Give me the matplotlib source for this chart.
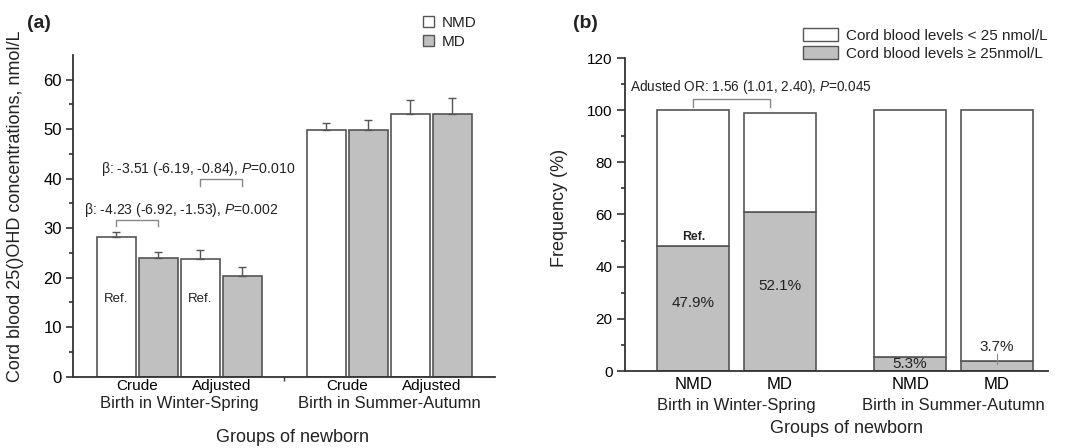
import numpy as np
import matplotlib.pyplot as plt
from matplotlib.patches import Patch

plt.rcParams['font.family'] = ['Liberation Sans', 'DejaVu Sans']
plt.rcParams['text.color'] = '#222222'
plt.rcParams['axes.labelcolor'] = '#222222'
plt.rcParams['mathtext.fontset'] = 'custom'
plt.rcParams['mathtext.it'] = 'Liberation Sans:italic'

# ==== DATA ====
# panel (a): mean cord blood 25(OH)D, upward error bar
a_groups = ["Birth in Winter-Spring", "Birth in Summer-Autumn"]
a_models = ["Crude", "Adjusted", "Crude", "Adjusted"]
a_nmd     = [28.3, 23.8, 49.8, 53.1]
a_md      = [23.9, 20.3, 49.8, 53.0]
a_nmd_err = [1.0, 1.8, 1.5, 2.9]
a_md_err  = [1.2, 1.95, 2.0, 3.4]

# panel (b): frequency (%) stacked
b_groups = ["Birth in Winter-Spring", "Birth in Summer-Autumn"]
b_cats   = ["NMD", "MD", "NMD", "MD"]
b_high   = [47.9, 61.0, 5.3, 3.7]      # >= 25 nmol/L (grey)
b_total  = [100.0, 99.0, 100.0, 100.0]
b_labels = ["47.9%", "52.1%", "5.3%", "3.7%"]

EDGE = '#555555'
GREY = '#c0c0c0'
SPINE = '#333333'

fig = plt.figure(figsize=(10.77, 4.48), dpi=100)

# ==== PANEL (a) ====
ax = fig.add_axes([73/1077, 1-376.7/448, 422/1077, 321.7/448])
pair_x = np.array([1, 3, 6, 8])
w = 0.93
ax.bar(pair_x, a_nmd, width=w, color='white', edgecolor=EDGE, linewidth=1.2)
ax.bar(pair_x + 1, a_md, width=w, color=GREY, edgecolor=EDGE, linewidth=1.2)
ax.errorbar(pair_x, a_nmd, yerr=[np.zeros(4), a_nmd_err], fmt='none',
            ecolor=EDGE, elinewidth=1.0, capsize=3, capthick=1.0)
ax.errorbar(pair_x + 1, a_md, yerr=[np.zeros(4), a_md_err], fmt='none',
            ecolor=EDGE, elinewidth=1.0, capsize=3, capthick=1.0)

ax.set_xlim(-0.03, 10.02)
ax.set_ylim(0, 65)
ax.set_yticks(np.arange(0, 61, 10))
ax.set_yticks(np.arange(5, 61, 10), minor=True)
ax.set_xticks(pair_x + 0.5)
ax.set_xticklabels(a_models, fontsize=11)
ax.set_xticks([5], minor=True)
ax.tick_params(axis='x', which='major', length=0, pad=2)
ax.tick_params(axis='x', which='minor', length=3, width=1, color=SPINE)
ax.tick_params(axis='y', which='major', length=5, width=1.2, color=SPINE,
               labelsize=12, pad=3)
ax.tick_params(axis='y', which='minor', length=3, width=1.2, color=SPINE)
for s in ['top', 'right']:
    ax.spines[s].set_visible(False)
for s in ['left', 'bottom']:
    ax.spines[s].set_color(SPINE)
    ax.spines[s].set_linewidth(1.3)

ax.set_ylabel("Cord blood 25()OHD concentrations, nmol/L", fontsize=13)
ax.yaxis.set_label_coords(-0.115, 0.53)
for gx, g in zip([2.5, 7.5], a_groups):
    ax.annotate(g, xy=(gx, 0), xycoords=('data', 'axes fraction'),
                xytext=(0, -27), textcoords='offset pixels',
                ha='center', va='center', fontsize=12)
ax.text(0.52, -61/321.7, "Groups of newborn", transform=ax.transAxes,
        ha='center', va='center', fontsize=13)

# Ref. labels and brackets
for rx in [1, 3]:
    ax.text(rx, 15.6, "Ref.", ha='center', va='center', fontsize=9.5)
ax.plot([3, 3, 4, 4], [38.6, 39.9, 39.9, 38.6], color='#888888', lw=1.0)
ax.plot([1, 1, 2, 2], [30.5, 31.7, 31.7, 30.5], color='#888888', lw=1.0)
ax.text(2.96, 42.0, r"β: -3.51 (-6.19, -0.84), $P$=0.010",
        ha='center', va='center', fontsize=10.1)
ax.text(2.54, 33.7, r"β: -4.23 (-6.92, -1.53), $P$=0.002",
        ha='center', va='center', fontsize=10.1)

handles_a = [Patch(facecolor='white', edgecolor=EDGE, linewidth=1),
             Patch(facecolor=GREY, edgecolor=EDGE, linewidth=1)]
fig.legend(handles_a, ["NMD", "MD"], loc='upper left',
           bbox_to_anchor=(423/1077, 1-16/448), frameon=False, fontsize=11,
           handlelength=0.7, handleheight=0.7, handletextpad=0.55,
           labelspacing=0.3, borderpad=0, borderaxespad=0)
fig.text(27/1077, 1-23/448, "(a)", fontsize=14, fontweight='bold',
         ha='left', va='center')

# ==== PANEL (b) ====
bx = fig.add_axes([625/1077, 1-371/448, 423/1077, 313/448])
pos = np.array([1, 2, 3.5, 4.5])
wb = 0.83
low = np.array(b_total) - np.array(b_high)
bx.bar(pos, b_high, width=wb, color=GREY, edgecolor=EDGE, linewidth=1.2)
bx.bar(pos, low, bottom=b_high, width=wb, color='white', edgecolor=EDGE,
       linewidth=1.2)
bx.set_xlim(0.212, 5.09)
bx.set_ylim(0, 120)
bx.set_yticks(np.arange(0, 121, 20))
bx.set_yticks(np.arange(10, 120, 20), minor=True)
bx.set_xticks(pos)
bx.set_xticklabels(b_cats, fontsize=12)
bx.tick_params(axis='x', length=0, pad=4)
bx.tick_params(axis='y', which='major', length=6, width=1.2, color=SPINE,
               labelsize=11, pad=3)
bx.tick_params(axis='y', which='minor', length=3, width=1.2, color=SPINE)
for s in ['top', 'right']:
    bx.spines[s].set_visible(False)
for s in ['left', 'bottom']:
    bx.spines[s].set_color(SPINE)
    bx.spines[s].set_linewidth(1.3)
bx.set_ylabel("Frequency (%)", fontsize=13)
bx.yaxis.set_label_coords(-0.135, 0.52)
for gx, g in zip([1.5, 4.0], b_groups):
    bx.annotate(g, xy=(gx, 0), xycoords=('data', 'axes fraction'),
                xytext=(0, -34), textcoords='offset pixels',
                ha='center', va='center', fontsize=12)
bx.text(0.524, -57/313, "Groups of newborn", transform=bx.transAxes,
        ha='center', va='center', fontsize=13)

# value labels
lab_y = [25.9, 32.6, 2.6, 9.3]
for px, ly, t in zip(pos, lab_y, b_labels):
    bx.text(px, ly, t, ha='center', va='center', fontsize=11)
bx.plot([pos[3], pos[3]], [2.7, 6.5], color='#888888', lw=0.8)
bx.text(pos[0], 51.2, "Ref.", ha='center', va='center', fontsize=8.8,
        fontweight='bold')
bx.plot([0.993, 0.993, 1.884, 1.884], [101.3, 104.2, 104.2, 101.3],
        color='#888888', lw=1.0)
bx.text(1.67, 108.7, r"Adusted OR: 1.56 (1.01, 2.40), $P$=0.045",
        ha='center', va='center', fontsize=9.85)

handles_b = [Patch(facecolor='white', edgecolor=EDGE, linewidth=1),
             Patch(facecolor=GREY, edgecolor=EDGE, linewidth=1)]
fig.legend(handles_b, ["Cord blood levels < 25 nmol/L",
                       "Cord blood levels ≥ 25nmol/L"],
           loc='upper left', bbox_to_anchor=(803/1077, 1-28/448),
           frameon=False, fontsize=11, handlelength=2.3, handleheight=0.95,
           handletextpad=0.5, labelspacing=0.2, borderpad=0,
           borderaxespad=0)
fig.text(573/1077, 1-23/448, "(b)", fontsize=14, fontweight='bold',
         ha='left', va='center')

fig.savefig("out.png", dpi=100)
